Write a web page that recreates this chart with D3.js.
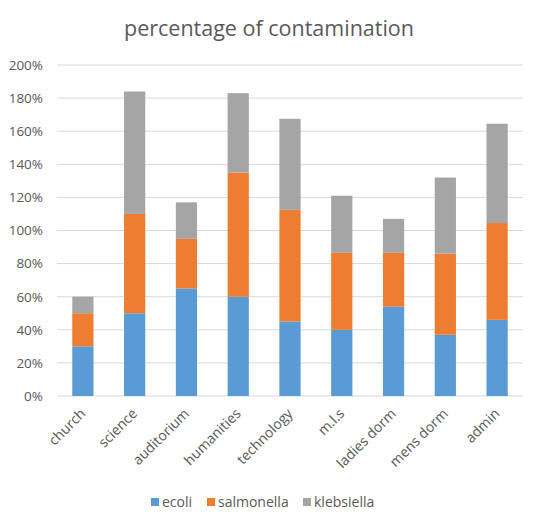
<!DOCTYPE html>
<html>
<head>
  <title>percentage of contamination</title>
  <script src="https://d3js.org/d3.v7.min.js"></script>
  <style>
    body { margin: 0; background: #fff; }
    text { font-family: "Open Sans", "Liberation Sans", sans-serif; fill: #595959; }
  </style>
</head>
<body>
  <svg width="542" height="520" id="mainsvg"></svg>
  <script>
    // data
    const categories = ["church", "science", "auditorium", "humanities", "technology", "m.l.s", "ladies dorm", "mens dorm", "admin"];
    const seriesNames = ["ecoli", "salmonella", "klebsiella"];
    const ecoli = [30, 50, 65, 60, 45, 40, 54, 37, 46];
    const salmonella = [20, 60, 30, 75, 67.5, 46.5, 32.5, 49, 58.5];
    const klebsiella = [10, 74, 22, 48, 55, 34.5, 20.5, 46, 60];
    const yTicks = [0, 20, 40, 60, 80, 100, 120, 140, 160, 180, 200];
    const colors = ["#5b9bd5", "#ed7d31", "#a5a5a5"];

    const svg = d3.select('#mainsvg');
    const margin = { left: 57, right: 19, top: 65, bottom: 124 };
    const width = +svg.attr('width'), height = +svg.attr('height');

    // table for the stack
    const rows = categories.map((c, i) => ({
      cat: c, ecoli: ecoli[i], salmonella: salmonella[i], klebsiella: klebsiella[i]
    }));
    const stacked = d3.stack().keys(seriesNames)(rows);

    const x = d3.scaleBand().domain(categories)
      .range([margin.left, width - margin.right])
      .paddingInner(0.59).paddingOuter(0.295);
    const y = d3.scaleLinear().domain([0, 200])
      .range([height - margin.bottom, margin.top]);

    // title
    svg.append('text')
      .attr('x', 269).attr('y', 36)
      .attr('text-anchor', 'middle')
      .style('font-size', '21.5px')
      .text('percentage of contamination');

    // gridlines
    svg.append('g').selectAll('line').data(yTicks).enter().append('line')
      .attr('x1', margin.left).attr('x2', width - margin.right)
      .attr('y1', d => y(d)).attr('y2', d => y(d))
      .attr('stroke', '#d9d9d9').attr('stroke-width', 1);

    // y axis labels
    const yAxis = d3.axisLeft(y).tickValues(yTicks).tickFormat(d => d + '%').tickSize(0).tickPadding(14);
    const gy = svg.append('g').attr('transform', `translate(${margin.left},0)`).call(yAxis);
    gy.select('.domain').remove();
    gy.selectAll('text').style('font-size', '13.5px').attr('fill', '#595959');

    // bars
    svg.append('g').selectAll('g').data(stacked).enter().append('g')
      .attr('fill', (d, i) => colors[i])
      .selectAll('rect').data(d => d).enter().append('rect')
      .attr('x', d => x(d.data.cat))
      .attr('width', x.bandwidth())
      .attr('y', d => y(d[1]))
      .attr('height', d => y(d[0]) - y(d[1]));

    // x axis labels
    const xAxis = d3.axisBottom(x).tickSize(0).tickPadding(0);
    const gx = svg.append('g').attr('transform', `translate(0,${height - margin.bottom})`).call(xAxis);
    gx.select('.domain').remove();
    gx.selectAll('text')
      .style('font-size', '14px')
      .attr('fill', '#595959')
      .attr('text-anchor', 'end')
      .attr('dy', '0.35em')
      .attr('transform', 'translate(0,15) rotate(-45)');

    // legend
    const legendItems = [
      { name: seriesNames[0], x: 151 },
      { name: seriesNames[1], x: 207 },
      { name: seriesNames[2], x: 303 }
    ];
    const lg = svg.append('g').selectAll('g').data(legendItems).enter().append('g')
      .attr('transform', d => `translate(${d.x},502)`);
    lg.append('rect').attr('x', 0).attr('y', -4).attr('width', 8).attr('height', 8)
      .attr('fill', (d, i) => colors[i]);
    lg.append('text').attr('x', 11).attr('y', 0).attr('dy', '0.35em')
      .style('font-size', '14px').text(d => d.name);
  </script>
</body>
</html>
